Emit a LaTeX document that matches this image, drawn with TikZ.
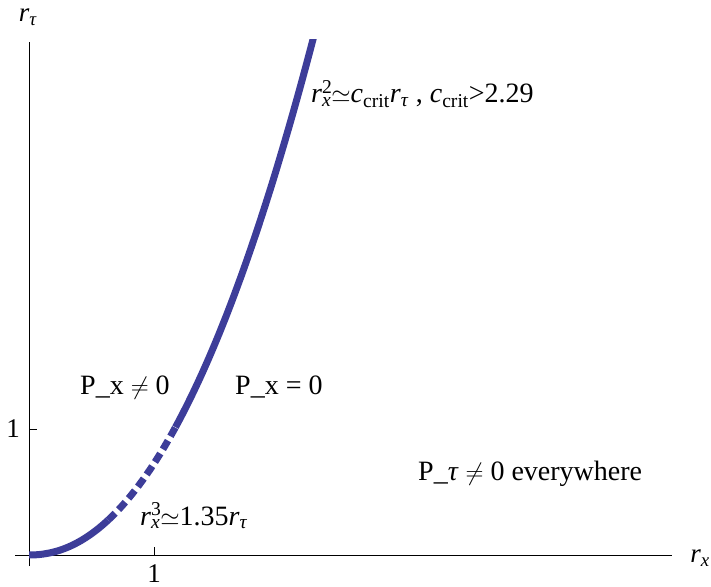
\documentclass[tikz,border=0pt]{standalone}
\usepackage{fontspec}
\setmainfont{Liberation Serif}
\definecolor{curvecol}{RGB}{61,61,153}
\newcommand\myr{\textit{r}}
\newcommand\mysub[1]{\textsubscript{#1}}
\newcommand\mysubsup[2]{\rlap{\textsuperscript{#2}}\textsubscript{#1}}
\begin{document}
\begin{tikzpicture}[x=1pt,y=1pt,
  lbl/.style={inner sep=0pt,anchor=base west,font=\fontsize{28}{32}\selectfont},
  axlbl/.style={inner sep=0pt,font=\fontsize{27}{31}\selectfont},
  axline/.style={line width=1pt,black},
  curve/.style={line width=7pt,curvecol}]
\useasboundingbox (0,0) rectangle (711,586);
% axes
\coordinate (xl) at (15,31);
\coordinate (xr) at (672,31);
\coordinate (yb) at (29,20);
\coordinate (yt) at (29,544);
\draw[axline] (xl) -- (xr);
\draw[axline] (yb) -- (yt);
% ticks
\coordinate (tx0) at (154,31);
\coordinate (tx1) at (154,39);
\coordinate (ty0) at (29,156);
\coordinate (ty1) at (37,156);
\draw[axline] (tx0) -- (tx1);
\draw[axline] (ty0) -- (ty1);
\node[axlbl] (onex) at (154,12) {1};
\node[axlbl] (oney) at (13,157) {1};
\node[axlbl] (ylab) at (28,569) {\myr\mysub{\textit{τ}}};
\node[axlbl] (xlab) at (700,28) {\myr\mysub{\textit{x}}};
% curve
\begin{scope}
\clip (0,31-10) rectangle (711,546);
\draw[curve] plot[domain=0.001:0.632,samples=40] ({29+125*\x},{31+91.5*\x^2.107});
\draw[curve,dash pattern=on 10pt off 5pt] plot[domain=0.632:1.17,samples=40] ({29+125*\x},{31+91.5*\x^2.107});
\draw[curve] plot[domain=1.172:2.32,samples=60] ({29+125*\x},{31+91.5*\x^2.107});
\end{scope}
% labels
\node[lbl] (eq1) at (311,483) {\myr\mysubsup{\textit{x}}{2}$\simeq$\textit{c}\mysub{crit}\myr\mysub{\textit{τ}} , \textit{c}\mysub{crit}>2.29};
\node[lbl] (eq2) at (140,61) {\myr\mysubsup{\textit{x}}{3}$\simeq$1.35\myr\mysub{\textit{τ}}};
\node[lbl] (p1) at (80,191) {P\_x $\neq$ 0};
\node[lbl] (p2) at (235,191) {P\_x = 0};
\node[lbl] (p3) at (418,106) {P\_\textit{τ} $\neq$ 0 everywhere};
\end{tikzpicture}
\end{document}
